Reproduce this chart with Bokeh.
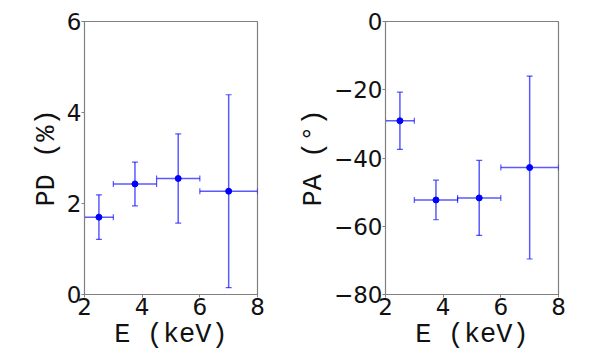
from bokeh.plotting import figure
from bokeh.layouts import row
from bokeh.models import ColumnDataSource, Whisker, TeeHead, FixedTicker, Range1d
from bokeh.embed import file_html
from bokeh.resources import INLINE

energy = [2.5, 3.75, 5.25, 7.0]
e_lo = [2.0, 3.0, 4.5, 6.0]
e_hi = [3.0, 4.5, 6.0, 8.0]
pd_val = [1.70, 2.43, 2.55, 2.27]
pd_err = [0.49, 0.48, 0.98, 2.12]
pa_val = [-29.1, -52.3, -51.7, -42.8]
pa_err = [8.4, 5.8, 11.0, 26.8]

x_ticks = [2, 4, 6, 8]
pd_ticks = [0, 2, 4, 6]
pa_ticks = [-80, -60, -40, -20, 0]

BLUE = "#0000ff"
GRAY = "#808080"


def make_panel(yvals, yerr, yrange, yticks, ylabel, width, left_border, right_border):
    p = figure(width=width, height=348, output_backend="svg", toolbar_location=None,
               x_range=Range1d(2, 8), y_range=Range1d(*yrange),
               min_border_left=left_border, min_border_right=right_border,
               min_border_top=21, min_border_bottom=54)
    p.frame_width = 173
    p.frame_height = 273
    src = ColumnDataSource(dict(
        x=energy, xlo=e_lo, xhi=e_hi, y=yvals,
        ylo=[v - e for v, e in zip(yvals, yerr)],
        yhi=[v + e for v, e in zip(yvals, yerr)],
    ))
    for base, lo, hi, dim in (("y", "xlo", "xhi", "width"), ("x", "ylo", "yhi", "height")):
        w = Whisker(source=src, base=base, lower=lo, upper=hi, dimension=dim,
                    line_color=BLUE, line_alpha=0.65, line_width=1.5,
                    lower_head=TeeHead(size=6, line_color=BLUE, line_alpha=0.65, line_width=1.2),
                    upper_head=TeeHead(size=6, line_color=BLUE, line_alpha=0.65, line_width=1.2))
        p.add_layout(w)
    p.scatter("x", "y", source=src, size=6, color=BLUE)

    p.grid.visible = False
    p.outline_line_color = GRAY
    p.outline_line_width = 1.2
    p.xaxis.ticker = FixedTicker(ticks=x_ticks)
    p.yaxis.ticker = FixedTicker(ticks=yticks)
    p.yaxis.major_label_overrides = {t: str(t).replace("-", "\u2212") for t in yticks}
    for ax in (p.xaxis[0], p.yaxis[0]):
        ax.axis_line_color = GRAY
        ax.major_tick_line_color = GRAY
        ax.major_tick_out = 3
        ax.major_tick_in = 0
        ax.minor_tick_out = 0
        ax.minor_tick_in = 0
        ax.major_label_text_font = "DejaVu Sans"
        ax.major_label_text_font_size = "23px"
        ax.major_label_text_color = "#111111"
        ax.major_label_standoff = 0
        ax.axis_label_text_font = "Liberation Mono"
        ax.axis_label_text_font_size = "27px"
        ax.axis_label_text_font_style = "normal"
        ax.axis_label_text_color = "#111111"
        ax.axis_label_standoff = 2
    p.xaxis.axis_label = "E (keV)"
    p.yaxis.axis_label = ylabel
    return p


p1 = make_panel(pd_val, pd_err, (0, 6), pd_ticks, "PD (%)", 295, 84, 38)
p2 = make_panel(pa_val, pa_err, (-80, 0), pa_ticks, "PA (°)", 292, 90, 29)

layout = row(p1, p2)
open("out.html", "w").write(file_html(layout, INLINE))
